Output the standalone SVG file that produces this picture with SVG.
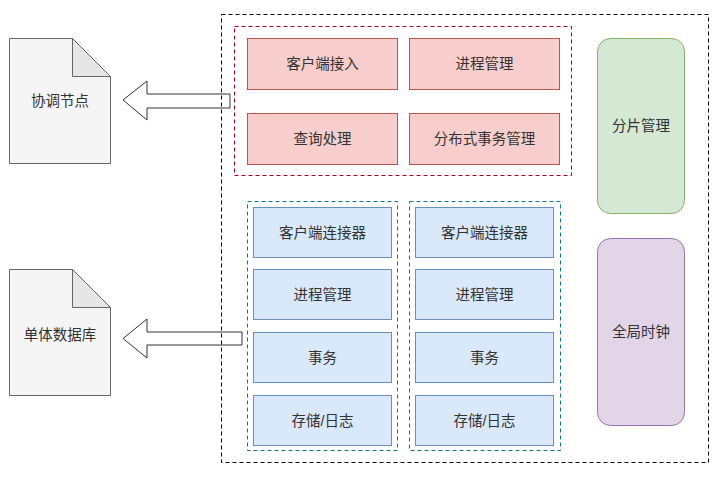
<svg xmlns="http://www.w3.org/2000/svg" width="724" height="478" viewBox="0 0 724 478">
<style>
text{font-family:"Liberation Sans","Noto Sans CJK SC",sans-serif;font-size:14.5px;fill:#333333;text-anchor:middle;dominant-baseline:central}
.red{fill:#f8cecc;stroke:#b85450;stroke-width:1}
.blue{fill:#dae8fc;stroke:#6c8ebf;stroke-width:1}
.doc{fill:#f5f5f5;stroke:#666666;stroke-width:1}
.fold{fill:#e6e6e6;stroke:#666666;stroke-width:1}
.arrow{fill:#ffffff;stroke:#333333;stroke-width:1}
.dash{fill:none;stroke-dasharray:4 3;stroke-width:1}
</style>
<rect width="724" height="478" fill="#ffffff"/>
<g id="connectors">
<path class="arrow" d="M230,94 L147,94 L147,81 L123,100 L147,120 L147,108 L230,108 Z"/>
<path class="arrow" d="M242,332 L147,332 L147,319 L123,338.5 L147,358 L147,345 L242,345 Z"/>
</g>
<g id="outer"><rect class="dash" x="221.5" y="14.5" width="487" height="448" stroke="#000000"/></g>
<g id="coord-group"><rect class="dash" x="234.5" y="26.5" width="337" height="149" stroke="#a20025"/></g>
<g id="n1"><rect class="red" x="247.5" y="38.5" width="150" height="51"/><text x="322.5" y="64">客户端接入</text></g>
<g id="n2"><rect class="red" x="409.5" y="38.5" width="150" height="51"/><text x="484.5" y="64">进程管理</text></g>
<g id="n3"><rect class="red" x="247.5" y="113.5" width="150" height="51"/><text x="322.5" y="139">查询处理</text></g>
<g id="n4"><rect class="red" x="409.5" y="113.5" width="150" height="51"/><text x="484.5" y="139">分布式事务管理</text></g>
<g id="shard"><rect x="597.5" y="38.5" width="87" height="175" rx="13" fill="#d5e8d4" stroke="#82b366"/><text x="641" y="126">分片管理</text></g>
<g id="clock"><rect x="597.5" y="238.5" width="87" height="187" rx="13" fill="#e1d5e7" stroke="#9673a6"/><text x="641" y="332">全局时钟</text></g>
<g id="data-group1"><rect class="dash" x="247.5" y="201.5" width="150" height="249" stroke="#10739e"/></g>
<g id="data-group2"><rect class="dash" x="409.5" y="201.5" width="151" height="249" stroke="#10739e"/></g>
<g id="b1"><rect class="blue" x="253.5" y="207.5" width="138" height="50"/><text x="322.5" y="232.5">客户端连接器</text></g>
<g id="b2"><rect class="blue" x="253.5" y="269.5" width="138" height="50"/><text x="322.5" y="294.5">进程管理</text></g>
<g id="b3"><rect class="blue" x="253.5" y="332.5" width="138" height="50"/><text x="322.5" y="357.5">事务</text></g>
<g id="b4"><rect class="blue" x="253.5" y="395.5" width="138" height="50"/><text x="322.5" y="420.5">存储/日志</text></g>
<g id="c1"><rect class="blue" x="415.5" y="207.5" width="138" height="50"/><text x="484.5" y="232.5">客户端连接器</text></g>
<g id="c2"><rect class="blue" x="415.5" y="269.5" width="138" height="50"/><text x="484.5" y="294.5">进程管理</text></g>
<g id="c3"><rect class="blue" x="415.5" y="332.5" width="138" height="50"/><text x="484.5" y="357.5">事务</text></g>
<g id="c4"><rect class="blue" x="415.5" y="395.5" width="138" height="50"/><text x="484.5" y="420.5">存储/日志</text></g>
<g id="coord-node">
<path class="doc" d="M9.5,38.5 L72.5,38.5 L110.5,76.5 L110.5,163.5 L9.5,163.5 Z"/>
<path class="fold" d="M72.5,38.5 L72.5,76.5 L110.5,76.5 Z"/>
<text x="60" y="101">协调节点</text>
</g>
<g id="db-node">
<path class="doc" d="M9.5,269.5 L72.5,269.5 L110.5,307.5 L110.5,395.5 L9.5,395.5 Z"/>
<path class="fold" d="M72.5,269.5 L72.5,307.5 L110.5,307.5 Z"/>
<text x="60" y="335">单体数据库</text>
</g>
</svg>
